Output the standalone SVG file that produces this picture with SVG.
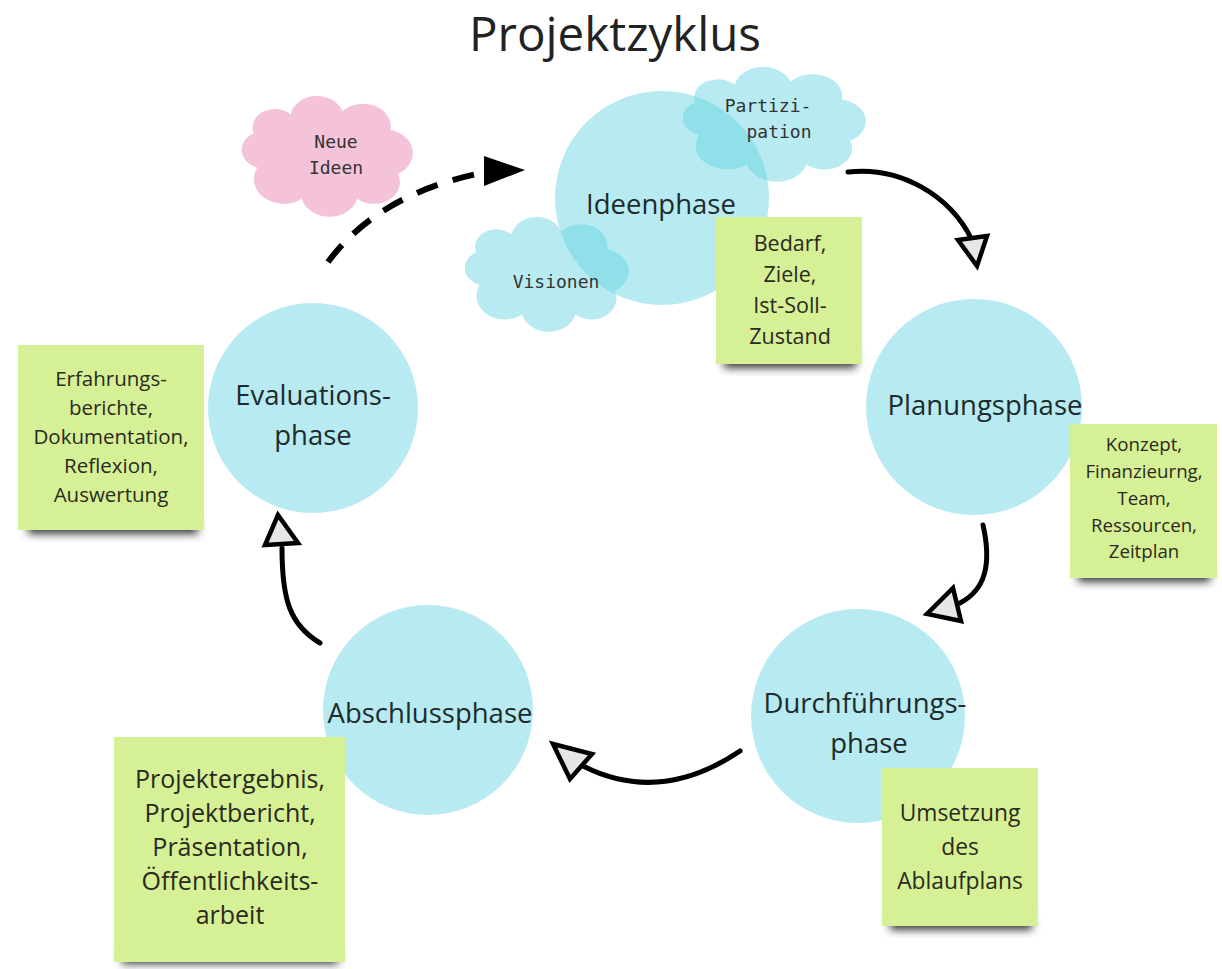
<svg xmlns="http://www.w3.org/2000/svg" xmlns:xlink="http://www.w3.org/1999/xlink" width="1222" height="969" viewBox="0 0 1222 969">
<defs>
<style>
.bg{fill:#ffffff}
.title{font-family:"Open Sans","Liberation Sans",sans-serif;font-size:47.5px;fill:#222;text-anchor:middle}
.phase{fill:#5fd3df;fill-opacity:0.45}
.plabel{font-family:"Open Sans","Liberation Sans",sans-serif;font-size:27.5px;fill:#1e2a2c;text-anchor:middle}
.cloudB{fill:#5fd3df;fill-opacity:0.45}
.cloudP{fill:#f3bcd5;fill-opacity:0.9}
.mono{font-family:"DejaVu Sans Mono","Liberation Mono",monospace;font-size:18px;fill:#333;text-anchor:middle}
.note{fill:#d6f095}
.shadow{fill:#3a3a3a;filter:url(#blur)}
.ntext{font-family:"Open Sans","Liberation Sans",sans-serif;fill:#2a2a20;text-anchor:middle}
.conn{fill:none;stroke:#000;stroke-width:5;stroke-linecap:round}
.dash{stroke-dasharray:22 16;stroke-linecap:butt;stroke-width:6}
.head{fill:#e6e6e6;stroke:#000;stroke-width:4.5;stroke-linejoin:miter}
.headF{fill:#000}
</style>
<filter id="blur" x="-20%" y="-50%" width="140%" height="200%"><feGaussianBlur stdDeviation="4"/></filter>
<path id="cloud" d="M14,44 A12,12 0 0 1 12,22 A12,12 0 0 1 32,10 A14.5,14.5 0 0 1 60,8 A15,15 0 0 1 86,20 A15,15 0 0 1 90,48 A14,14 0 0 1 68,64 A15.5,15.5 0 0 1 38,64 A16,16 0 0 1 14,44 Z"/>
</defs>
<rect class="bg" x="0" y="0" width="1222" height="969"/>
<text class="title" x="615" y="51">Projektzyklus</text>

<g id="cloud-neue-ideen">
<use xlink:href="#cloud" class="cloudP" transform="translate(231.3,98.9) scale(1.852,1.559)"/>
<text class="mono" x="336" y="148">Neue</text>
<text class="mono" x="336" y="174">Ideen</text>
</g>

<g id="ideenphase">
<circle class="phase" cx="662" cy="198" r="107"/>
<text class="plabel" x="661" y="214">Ideenphase</text>
</g>

<g id="cloud-partizipation">
<use xlink:href="#cloud" class="cloudB" transform="translate(671.5,69.8) scale(1.983,1.48)"/>
<text class="mono" x="768" y="112">Partizi-</text>
<text class="mono" x="779" y="138">pation</text>
</g>

<g id="cloud-visionen">
<use xlink:href="#cloud" class="cloudB" transform="translate(454.7,219.8) scale(1.776,1.48)"/>
<text class="mono" x="556" y="288">Visionen</text>
</g>

<g id="planungsphase">
<circle class="phase" cx="974" cy="407" r="108"/>
<text class="plabel" x="985" y="415">Planungsphase</text>
</g>

<g id="durchfuehrungsphase">
<circle class="phase" cx="858" cy="716" r="107"/>
<text class="plabel" x="865" y="713">Durchführungs-</text>
<text class="plabel" x="869" y="753">phase</text>
</g>

<g id="abschlussphase">
<circle class="phase" cx="428" cy="710" r="105"/>
<text class="plabel" x="430" y="723">Abschlussphase</text>
</g>

<g id="evaluationsphase">
<circle class="phase" cx="313" cy="408" r="105"/>
<text class="plabel" x="313" y="405">Evaluations-</text>
<text class="plabel" x="313" y="445">phase</text>
</g>

<g id="connectors">
<path class="conn dash" d="M328,262 Q380,192 487,172"/>
<polygon class="headF" points="525,170 484,156 484,186"/>
<path class="conn" d="M848,172 C900,166 950,195 972,240"/>
<polygon class="head" points="958,240 987,236 977,266"/>
<path class="conn" d="M983,525 C992,565 985,590 960,603"/>
<polygon class="head" points="953,588 927,614 961,621"/>
<path class="conn" d="M740,751 Q660,805 583,766"/>
<polygon class="head" points="553,744 592,754 570,779"/>
<path class="conn" d="M320,643 C290,625 282,600 282,548"/>
<polygon class="head" points="278,515 265,545 298,543"/>
</g>

<g id="note-ideen">
<rect class="shadow" x="724" y="352" width="132" height="16"/>
<rect class="note" x="716" y="217" width="146" height="147"/>
<text class="ntext" font-size="21.5" x="790" y="251">Bedarf,</text>
<text class="ntext" font-size="21.5" x="790" y="282">Ziele,</text>
<text class="ntext" font-size="21.5" x="790" y="313">Ist-Soll-</text>
<text class="ntext" font-size="21.5" x="790" y="344">Zustand</text>
</g>

<g id="note-planung">
<rect class="shadow" x="1078" y="566" width="132" height="16"/>
<rect class="note" x="1070" y="424" width="147" height="154"/>
<text class="ntext" font-size="18.7" x="1144" y="451">Konzept,</text>
<text class="ntext" font-size="18.7" x="1144" y="478">Finanzieurng,</text>
<text class="ntext" font-size="18.7" x="1144" y="505">Team,</text>
<text class="ntext" font-size="18.7" x="1144" y="532">Ressourcen,</text>
<text class="ntext" font-size="18.7" x="1144" y="558">Zeitplan</text>
</g>

<g id="note-evaluation">
<rect class="shadow" x="28" y="518" width="170" height="16"/>
<rect class="note" x="18" y="345" width="186" height="185"/>
<text class="ntext" font-size="20.5" x="111" y="386">Erfahrungs-</text>
<text class="ntext" font-size="20.5" x="111" y="415">berichte,</text>
<text class="ntext" font-size="20.5" x="111" y="444">Dokumentation,</text>
<text class="ntext" font-size="20.5" x="111" y="473">Reflexion,</text>
<text class="ntext" font-size="20.5" x="111" y="502">Auswertung</text>
</g>

<g id="note-abschluss">
<rect class="shadow" x="122" y="950" width="216" height="14"/>
<rect class="note" x="114" y="737" width="231" height="225"/>
<text class="ntext" font-size="25" x="230" y="788">Projektergebnis,</text>
<text class="ntext" font-size="25" x="230" y="822">Projektbericht,</text>
<text class="ntext" font-size="25" x="230" y="856">Präsentation,</text>
<text class="ntext" font-size="25" x="230" y="890">Öffentlichkeits-</text>
<text class="ntext" font-size="25" x="230" y="924">arbeit</text>
</g>

<g id="note-durchfuehrung">
<rect class="shadow" x="890" y="914" width="142" height="16"/>
<rect class="note" x="882" y="768" width="156" height="158"/>
<text class="ntext" font-size="22.8" x="960" y="821">Umsetzung</text>
<text class="ntext" font-size="22.8" x="960" y="855">des</text>
<text class="ntext" font-size="22.8" x="960" y="889">Ablaufplans</text>
</g>
</svg>
